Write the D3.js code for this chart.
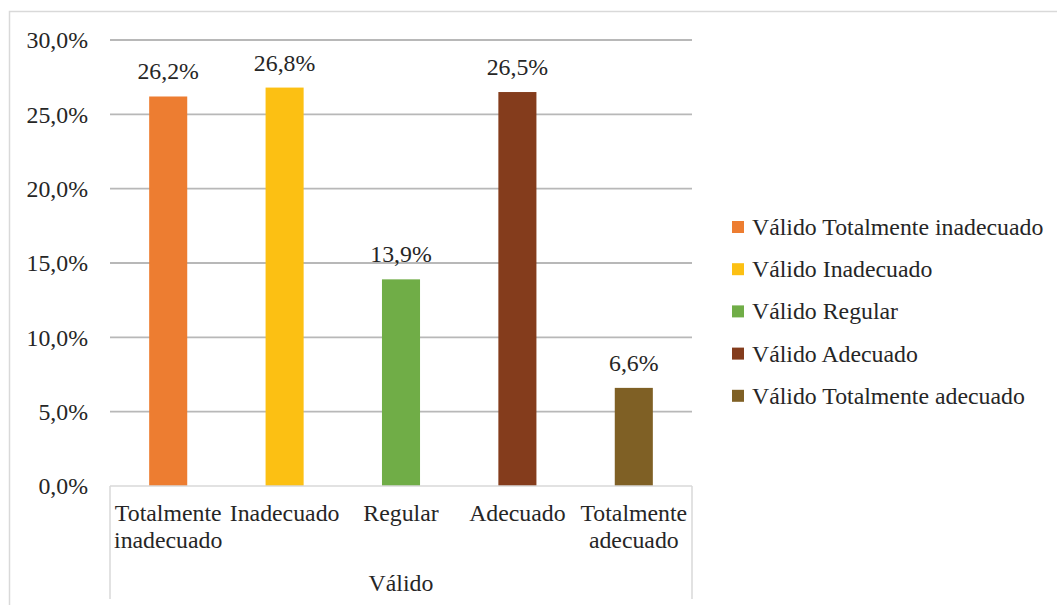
<!DOCTYPE html>
<html>
<head>
<meta charset="utf-8">
<script src="https://cdn.jsdelivr.net/npm/d3@7"></script>
<style>
  body { margin: 0; background: #fff; }
  text { font-family: "Liberation Serif", "Times New Roman", serif; fill: #262626; }
</style>
</head>
<body>
<svg id="mainSvg" width="1057" height="605"></svg>
<script>
// chart values
var categories = ["Totalmente inadecuado", "Inadecuado", "Regular", "Adecuado", "Totalmente adecuado"];
var categoryLines = [["Totalmente", "inadecuado"], ["Inadecuado"], ["Regular"], ["Adecuado"], ["Totalmente", "adecuado"]];
var values = [26.2, 26.8, 13.9, 26.5, 6.6];
var valueLabels = ["26,2%", "26,8%", "13,9%", "26,5%", "6,6%"];
var colors = ["#ED7D31", "#FCC013", "#70AD47", "#843C1C", "#7F6025"];
var legendLabels = ["Válido Totalmente inadecuado", "Válido Inadecuado", "Válido Regular", "Válido Adecuado", "Válido Totalmente adecuado"];
var yTicks = [0, 5, 10, 15, 20, 25, 30];
var groupLabel = "Válido";

var fontSize = 23.8;
var plotLeft = 110, plotRight = 692, plotTop = 40, plotBottom = 486;

var svg = d3.select("#mainSvg");

// outer chart border
svg.append("rect")
  .attr("x", 9.5).attr("y", 11.5)
  .attr("width", 1060).attr("height", 610)
  .attr("fill", "none")
  .attr("stroke", "#d9d9d9")
  .attr("stroke-width", 1.5);

var x = d3.scaleBand().domain(categories).range([plotLeft, plotRight]).paddingInner(0.673).paddingOuter(0.3365);
var y = d3.scaleLinear().domain([0, 30]).range([plotBottom, plotTop]);

// gridlines
svg.append("g").selectAll("line")
  .data(yTicks.filter(function(d){ return d > 0; }))
  .enter().append("line")
  .attr("x1", plotLeft).attr("x2", plotRight)
  .attr("y1", function(d){ return y(d); })
  .attr("y2", function(d){ return y(d); })
  .attr("stroke", "#b8b8b8")
  .attr("stroke-width", 1.8);

// y tick labels
svg.append("g").selectAll("text")
  .data(yTicks)
  .enter().append("text")
  .attr("x", 88)
  .attr("y", function(d){ return y(d); })
  .attr("dy", "0.35em")
  .attr("text-anchor", "end")
  .style("font-size", fontSize + "px")
  .text(function(d){ return d.toFixed(1).replace(".", ",") + "%"; });

// bars
svg.append("g").selectAll("rect")
  .data(values)
  .enter().append("rect")
  .attr("x", function(d, i){ return x(categories[i]); })
  .attr("y", function(d){ return y(d); })
  .attr("width", x.bandwidth())
  .attr("height", function(d){ return y(0) - y(d); })
  .attr("fill", function(d, i){ return colors[i]; });

// value labels
svg.append("g").selectAll("text")
  .data(values)
  .enter().append("text")
  .attr("x", function(d, i){ return x(categories[i]) + x.bandwidth() / 2; })
  .attr("y", function(d){ return y(d) - 17; })
  .attr("text-anchor", "middle")
  .style("font-size", fontSize + "px")
  .text(function(d, i){ return valueLabels[i]; });

// category axis
var axisG = svg.append("g").attr("stroke", "#d9d9d9").attr("stroke-width", 1.5);
axisG.append("line").attr("x1", plotLeft).attr("x2", plotRight).attr("y1", plotBottom).attr("y2", plotBottom);
axisG.append("line").attr("x1", plotLeft).attr("x2", plotLeft).attr("y1", plotBottom).attr("y2", 599);
axisG.append("line").attr("x1", plotRight).attr("x2", plotRight).attr("y1", plotBottom).attr("y2", 599);

var catText = svg.append("g").selectAll("text")
  .data(categoryLines)
  .enter().append("text")
  .attr("text-anchor", "middle")
  .style("font-size", fontSize + "px")
  .attr("transform", function(d, i){ return "translate(" + (x(categories[i]) + x.bandwidth() / 2) + ",521)"; });
catText.selectAll("tspan")
  .data(function(d){ return d; })
  .enter().append("tspan")
  .attr("x", 0)
  .attr("y", function(d, j){ return j * 27; })
  .text(function(d){ return d; });

svg.append("text")
  .attr("x", (plotLeft + plotRight) / 2)
  .attr("y", 591)
  .attr("text-anchor", "middle")
  .style("font-size", fontSize + "px")
  .text(groupLabel);

// legend
var legend = svg.append("g").selectAll("g")
  .data(legendLabels)
  .enter().append("g")
  .attr("transform", function(d, i){ return "translate(732," + (227 + i * 42.2) + ")"; });
legend.append("rect")
  .attr("x", 0).attr("y", -6)
  .attr("width", 12).attr("height", 12)
  .attr("fill", function(d, i){ return colors[i]; });
legend.append("text")
  .attr("x", 20).attr("y", 8)
  .style("font-size", fontSize + "px")
  .text(function(d){ return d; });
</script>
</body>
</html>
